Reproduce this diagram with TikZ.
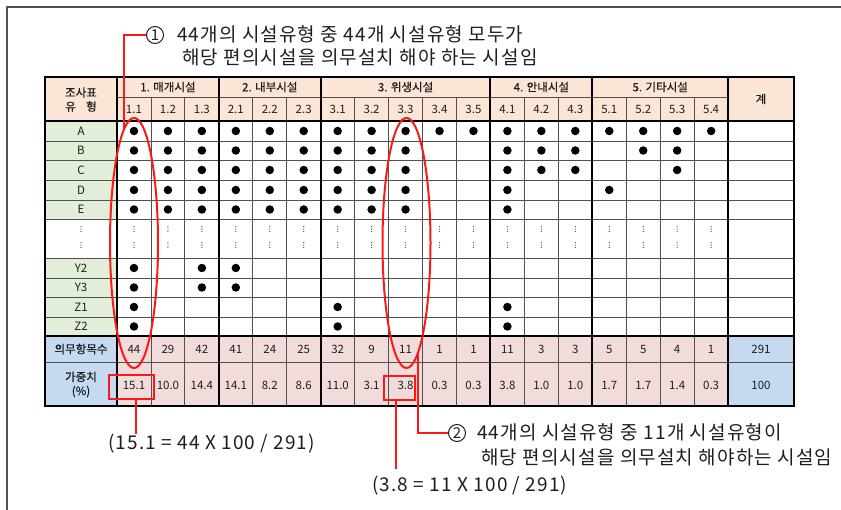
\documentclass[tikz,border=0pt]{standalone}
\usepackage{fontspec}
\setmainfont{Noto Sans CJK KR}
\newfontfamily\hdfont[FakeBold=0.35]{Noto Sans CJK KR}
\newfontfamily\annotfont[LetterSpace=6]{Noto Sans CJK KR}
\newfontfamily\formfont[LetterSpace=6]{Noto Sans CJK KR}
\usetikzlibrary{shapes.geometric}
\definecolor{peach}{RGB}{251,229,214}
\definecolor{lgreen}{RGB}{226,238,216}
\definecolor{lpink}{RGB}{242,220,219}
\definecolor{lblue}{RGB}{197,217,241}
\definecolor{redc}{RGB}{250,25,25}
\definecolor{gridgray}{RGB}{80,80,80}
\definecolor{txt}{RGB}{30,30,30}
\begin{document}
\begin{tikzpicture}[x=1pt,y=-1pt,
  framel/.style={line width=1.4pt, draw=gridgray},
  thickln/.style={line width=2pt, draw=black},
  gridln/.style={line width=0.9pt, draw=gridgray},
  cell/.style={inner sep=0pt, text=txt, font=\fontsize{11.5}{14}\selectfont},
  hcell/.style={inner sep=0pt, text=txt, font=\hdfont\fontsize{11.5}{14}\selectfont},
  bullet/.style={circle, fill=black, inner sep=0pt, minimum size=8.5pt},
  vdot/.style={circle, fill=gridgray, inner sep=0pt, minimum size=1.3pt},
  redln/.style={draw=redc, line width=2pt},
  annot/.style={inner sep=0pt, anchor=base west, text=txt, font=\annotfont\fontsize{19}{21}\selectfont},
  formula/.style={inner sep=2pt, text height=13.5pt, text depth=3pt, anchor=base west, text=txt, font=\formfont\fontsize{19}{21}\selectfont},
  numcirc/.style={circle, draw=txt, line width=1pt, minimum size=17pt, inner sep=0pt, text=txt, font=\fontsize{15}{15}\selectfont}
]
\useasboundingbox (0,0) rectangle (841,510);
% page frame
\draw[framel] (7,510) -- (7,7) -- (841,7);

% fills
\fill[peach] (45,77) rectangle (794,121);
\fill[lgreen] (45,121) rectangle (117,219);
\fill[lgreen] (45,258) rectangle (117,336);
\fill[lblue] (45,336) rectangle (117,406);
\fill[lpink] (117,336) rectangle (728.1,406);
\fill[lblue] (728.1,336) rectangle (794,406);

% thin grid lines
\foreach \y in {141,160.5,180,200,219,258,278,297.5,317,362}
  \draw[gridln] (45,\y) -- (794,\y);
\draw[gridln] (117,97) -- (728,97);
\foreach \i in {1,2,4,5,7,8,9,10,12,13,15,16,17}
  \draw[gridln] ({117+33.95*\i},97) -- ({117+33.95*\i},406);
% thick lines
\foreach \y in {121,336} \draw[thickln] (45,\y) -- (794,\y);
\foreach \i in {0,3,6,11,14,18}
  \draw[thickln] ({117+33.95*\i},77) -- ({117+33.95*\i},406);
\draw[thickln] (45,77) rectangle (794,406);

% header texts
\node[hcell] (hlab1) at (81,92.5) {조사표};
\node[hcell] (hlab2) at (81,106.5) {유\hspace{0.9em}형};
\node[hcell] (g1) at ({117+33.95*1.5},87) {1. 매개시설};
\node[hcell] (g2) at ({117+33.95*4.5},87) {2. 내부시설};
\node[hcell] (g3) at ({117+33.95*8.5},87) {3. 위생시설};
\node[hcell] (g4) at ({117+33.95*12.5},87) {4. 안내시설};
\node[hcell] (g5) at ({117+33.95*16},87) {5. 기타시설};
\node[hcell] (htot) at (761,99) {계};
\foreach \i/\t in {0/1.1,1/1.2,2/1.3,3/2.1,4/2.2,5/2.3,6/3.1,7/3.2,8/3.3,9/3.4,10/3.5,11/4.1,12/4.2,13/4.3,14/5.1,15/5.2,16/5.3,17/5.4}
  \node[cell] (s\i) at ({117+33.95*(\i+0.5)},109.5) {\t};

% row labels
\foreach \n/\y in {A/131,B/150.5,C/170,D/190,E/209.5,Y2/268,Y3/287.5,Z1/307,Z2/326.5}
  \node[cell] (r\n) at (81,\y) {\n};

% vertical ellipsis marks (label column + 18 data columns)
\foreach \yy [count=\m] in {229,245} {
  \foreach \dd [count=\q] in {-2.4,0,2.4} {
    \node[vdot] (vl\m\q) at (81,\yy+\dd) {};
    \foreach \c in {0,...,17}
      \node[vdot] (v\c-\m-\q) at ({117+33.95*(\c+0.5)},\yy+\dd) {};
  }
}

% bullets
\foreach \r/\y/\cols in {A/131/{0,...,17},
    B/150.5/{0,1,2,3,4,5,6,7,8,11,12,13,15,16},
    C/170/{0,1,2,3,4,5,6,7,8,11,12,13,16},
    D/190/{0,1,2,3,4,5,6,7,8,11,14},
    E/209.5/{0,1,2,3,4,5,6,7,8,11},
    Y2/268/{0,2,3},
    Y3/287.5/{0,2,3},
    Z1/307/{0,6,11},
    Z2/326.5/{0,6,11}}
  \foreach \c in \cols
    \node[bullet] (d\r-\c) at ({117+33.95*(\c+0.5)},\y) {};

% bottom rows
\node[hcell] (lcount) at (81,349) {의무항목수};
\node[hcell, align=center] (lweight) at (81,384.5) {가중치\\(\%)};
\foreach \i/\v/\w in {0/44/15.1,1/29/10.0,2/42/14.4,3/41/14.1,4/24/8.2,5/25/8.6,6/32/11.0,7/9/3.1,8/11/3.8,9/1/0.3,10/1/0.3,11/11/3.8,12/3/1.0,13/3/1.0,14/5/1.7,15/5/1.7,16/4/1.4,17/1/0.3} {
  \node[cell] (m\i) at ({117+33.95*(\i+0.5)},349.5) {\v};
  \node[cell] (w\i) at ({117+33.95*(\i+0.5)},385) {\w};
}
\node[cell] (mtot) at (761,349.5) {291};
\node[cell] (wtot) at (761,385) {100};

% red ellipses and boxes
\node[ellipse, redln, minimum width=48pt, minimum height=250pt, inner sep=0pt] (e1) at (134,243) {};
\node[ellipse, redln, minimum width=48pt, minimum height=250pt, inner sep=0pt] (e2) at (406.5,243) {};
\node[redln, draw, minimum width=45pt, minimum height=24pt, inner sep=0pt] (b1) at (131.5,387) {};
\node[redln, draw, minimum width=31pt, minimum height=24pt, inner sep=0pt] (b2) at (399.5,388) {};

% callout 1
\node[numcirc] (c1) at (155,35) {1};
\node[annot] (a1) at (177,42) {44개의 시설유형 중 44개 시설유형 모두가};
\node[annot] (a2) at (182,64.5) {해당 편의시설을 의무설치 해야 하는 시설임};
\draw[redln] (c1.west) -| (e1.95.7);

% callout 2
\node[numcirc] (c2) at (457,433) {2};
\node[annot] (a3) at (477,440) {44개의 시설유형 중 11개 시설유형이};
\node[annot] (a4) at (481,464.5) {해당 편의시설을 의무설치 해야하는 시설임};
\draw[redln] (c2.west) -| (e2.-84);

% formulas
\node[formula] (t1) at (106,449.5) {(15.1 = 44 X 100 / 291)};
\node[formula] (t2) at (370,491.5) {(3.8 = 11 X 100 / 291)};
\coordinate (k1) at ([xshift=4pt]b1.south);
\coordinate (k2) at ([xshift=-3.5pt]b2.south);
\draw[redln] (k1) -- (k1 |- t1.north);
\draw[redln, shorten >=7pt] (k2) -- (k2 |- t2.north);
\end{tikzpicture}
\end{document}
